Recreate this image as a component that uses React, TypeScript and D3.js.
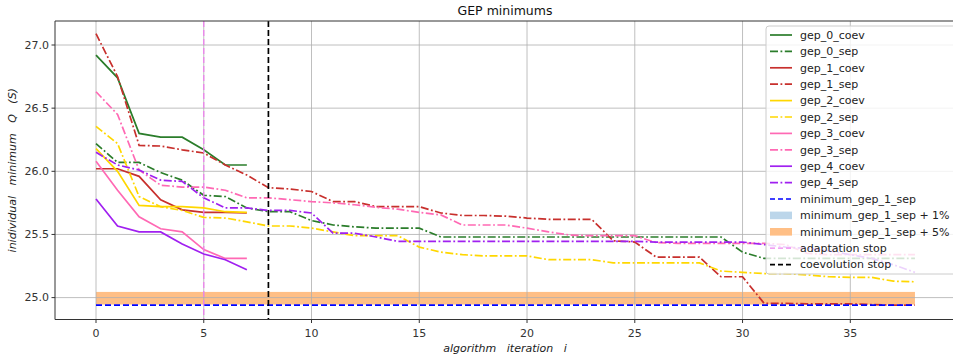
import React from "react";
import * as d3 from "d3";

const seriesLabels = [
  "gep_0_coev", "gep_0_sep", "gep_1_coev", "gep_1_sep", "gep_2_coev",
  "gep_2_sep", "gep_3_coev", "gep_3_sep", "gep_4_coev", "gep_4_sep",
];

const gep0Coev = [26.92, 26.74, 26.30, 26.27, 26.27, 26.17, 26.05, 26.05];
const gep0Sep = [
  26.22, 26.07, 26.07, 25.99, 25.93, 25.81, 25.80, 25.71, 25.68, 25.68, 25.61,
  25.575, 25.56, 25.55, 25.55, 25.55,
  25.48, 25.48, 25.48, 25.48, 25.48, 25.48, 25.48, 25.48, 25.48, 25.48, 25.48, 25.48, 25.48, 25.48,
  25.36, 25.31, 25.31, 25.31, 25.31, 25.31, 25.31, 25.31, 25.31,
];
const gep1Coev = [26.02, 26.02, 25.96, 25.775, 25.695, 25.675, 25.675, 25.67];
const gep1Sep = [
  27.09, 26.75, 26.205, 26.20, 26.17, 26.145, 26.05, 25.97, 25.87, 25.86,
  25.84, 25.76, 25.76, 25.72, 25.72, 25.72, 25.67, 25.65, 25.65, 25.645,
  25.63, 25.62, 25.62, 25.62, 25.45, 25.44, 25.32, 25.32, 25.32, 25.165,
  25.165, 24.955, 24.955, 24.95, 24.95, 24.95, 24.945, 24.94, 24.94,
];
const gep2Coev = [26.18, 26.0, 25.73, 25.72, 25.72, 25.71, 25.68, 25.675];
const gep2Sep = [
  26.356, 26.22, 25.80, 25.72, 25.69, 25.635, 25.63, 25.60, 25.567, 25.567,
  25.55, 25.52, 25.49, 25.49, 25.49, 25.40, 25.36, 25.34, 25.33, 25.33,
  25.33, 25.30, 25.30, 25.30, 25.275, 25.275, 25.275, 25.275, 25.275, 25.21,
  25.20, 25.19, 25.19, 25.18, 25.165, 25.16, 25.16, 25.13, 25.125,
];
const gep3Coev = [26.08, 25.85, 25.64, 25.545, 25.52, 25.38, 25.31, 25.31];
const gep3Sep = [
  26.63, 26.45, 26.01, 25.89, 25.875, 25.875, 25.85, 25.79, 25.79, 25.775,
  25.76, 25.75, 25.735, 25.715, 25.70, 25.675, 25.655, 25.575, 25.575, 25.575,
  25.55, 25.52, 25.495, 25.49, 25.49, 25.49, 25.435, 25.43, 25.43, 25.43,
  25.43, 25.43, 25.42, 25.35, 25.34, 25.34, 25.34, 25.34, 25.34,
];
const gep4Coev = [25.78, 25.567, 25.52, 25.52, 25.425, 25.345, 25.30, 25.22];
const gep4Sep = [
  26.15, 26.05, 26.01, 25.93, 25.92, 25.79, 25.71, 25.71, 25.69, 25.69, 25.67,
  25.51, 25.51, 25.48,
  25.445, 25.445, 25.445, 25.445, 25.445, 25.445, 25.445, 25.445, 25.445, 25.445, 25.445, 25.445,
  25.44, 25.44, 25.44, 25.44, 25.44,
  25.42, 25.40, 25.39, 25.37, 25.34, 25.31, 25.26, 25.20,
];

const minimumValue = 24.94;
const band5Low = 24.945;
const band5High = 25.045;
const bandStart = 0;
const bandEnd = 38;
const adaptationStop = 5;
const coevolutionStop = 8;

const xTicks = [0, 5, 10, 15, 20, 25, 30, 35];
const yTicks = [25.0, 25.5, 26.0, 26.5, 27.0];

const extraLegendLabels = [
  "minimum_gep_1_sep",
  "minimum_gep_1_sep + 1%",
  "minimum_gep_1_sep + 5%",
  "adaptation stop",
  "coevolution stop",
];

const seriesValues = [gep0Coev, gep0Sep, gep1Coev, gep1Sep, gep2Coev, gep2Sep, gep3Coev, gep3Sep, gep4Coev, gep4Sep];
const familyColors = ["#2b7d2b", "#c8302d", "#ffd700", "#ff69b4", "#a020f0"];

const DASHDOT = "8,2.5,1.8,2.5";
const DASHED = "6,3";
const FONT = "DejaVu Sans, sans-serif";

export default function App() {
  const W = 953, H = 360;
  const left = 55, top = 21, right = 960, bottom = 319.5;
  const x = d3.scaleLinear().domain([0, 35]).range([96, 850.3]);
  const y = d3.scaleLinear().domain([25, 27]).range([297.6, 45]);

  const line = d3.line<number>().x((_, i) => x(i)).y((d) => y(d));

  const series = seriesValues.map((vals, k) => ({
    name: seriesLabels[k],
    values: vals,
    color: familyColors[Math.floor(k / 2)],
    dash: k % 2 === 1 ? DASHDOT : undefined,
  }));

  const legendX = 766, legendY = 26, rowH = 16.4, firstRow = 35;
  const legendItems = [
    ...series.map((s) => ({ label: s.name, kind: "line", color: s.color, dash: s.dash, w: 1.7 })),
    { label: extraLegendLabels[0], kind: "line", color: "#0000ff", dash: "5,3", w: 1.7 },
    { label: extraLegendLabels[1], kind: "rect", color: "#bcd6ea" },
    { label: extraLegendLabels[2], kind: "rect", color: "#ffbf86" },
    { label: extraLegendLabels[3], kind: "line", color: "#ee82ee", dash: "5,3", w: 1.3 },
    { label: extraLegendLabels[4], kind: "line", color: "#000000", dash: "5,3", w: 1.7 },
  ];

  return (
    <svg width={W} height={H} style={{ position: "absolute", left: 0, top: 0, background: "#fff" }} fontFamily={FONT}>
      <rect x={0} y={0} width={W} height={H} fill="#fff" />
      <defs>
        <clipPath id="plot">
          <rect x={left} y={top} width={right - left} height={bottom - top} />
        </clipPath>
      </defs>
      {/* bands */}
      <rect
        x={x(bandStart)} y={y(band5High)} width={x(bandEnd) - x(bandStart)} height={y(band5Low) - y(band5High)}
        fill="#ffbf86"
      />
      {/* grid */}
      {xTicks.map((t) => (
        <line key={"gx" + t} x1={x(t)} x2={x(t)} y1={top} y2={bottom} stroke="#b0b0b0" strokeWidth={1} opacity={0.8} />
      ))}
      {yTicks.map((t) => (
        <line key={"gy" + t} x1={left} x2={right} y1={y(t)} y2={y(t)} stroke="#b0b0b0" strokeWidth={1} opacity={0.8} />
      ))}
      <g clipPath="url(#plot)">
        {series.map((s) => (
          <path key={s.name} d={line(s.values) || ""} fill="none" stroke={s.color} strokeWidth={1.7} strokeDasharray={s.dash} />
        ))}
        <line x1={x(bandStart)} x2={x(bandEnd)} y1={y(minimumValue)} y2={y(minimumValue)} stroke="#0000ff" strokeWidth={1.7} strokeDasharray={DASHED} />
        <line x1={x(adaptationStop)} x2={x(adaptationStop)} y1={top} y2={bottom} stroke="#ee82ee" strokeWidth={1.3} strokeDasharray={DASHED} />
        <line x1={x(coevolutionStop)} x2={x(coevolutionStop)} y1={top} y2={bottom} stroke="#000" strokeWidth={1.7} strokeDasharray={DASHED} />
      </g>
      {/* spines */}
      <line x1={left} x2={left} y1={top} y2={bottom} stroke="#333" strokeWidth={1} />
      <line x1={left} x2={right} y1={bottom} y2={bottom} stroke="#333" strokeWidth={1} />
      <line x1={left} x2={right} y1={top} y2={top} stroke="#333" strokeWidth={1} />
      {/* ticks */}
      {xTicks.map((t) => (
        <g key={"tx" + t}>
          <line x1={x(t)} x2={x(t)} y1={bottom} y2={bottom + 3.5} stroke="#333" />
          <text x={x(t)} y={bottom + 17} textAnchor="middle" fontSize={11} fill="#333">{t}</text>
        </g>
      ))}
      {yTicks.map((t) => (
        <g key={"ty" + t}>
          <line x1={left - 3.5} x2={left} y1={y(t)} y2={y(t)} stroke="#333" />
          <text x={left - 6} y={y(t)} dy="0.35em" textAnchor="end" fontSize={11} fill="#333">{t.toFixed(1)}</text>
        </g>
      ))}
      {/* labels */}
      <text x={505} y={14.5} textAnchor="middle" fontSize={12.5} fill="#111">GEP minimums</text>
      <text x={505} y={352} textAnchor="middle" fontSize={11} fontStyle="italic" fill="#222" xmlSpace="preserve">
        algorithm   iteration   i
      </text>
      <text
        transform={`translate(16,${(top + bottom) / 2}) rotate(-90)`}
        textAnchor="middle" fontSize={11} fontStyle="italic" fill="#222" xmlSpace="preserve"
      >
        inidividual   minimum   Q   (S)
      </text>
      {/* legend */}
      <g>
        <rect x={legendX} y={legendY} width={200} height={248} rx={3} fill="#fff" fillOpacity={0.8} stroke="#cccccc" strokeWidth={1} />
        {legendItems.map((it, i) => {
          const cy = firstRow + i * rowH;
          return (
            <g key={it.label}>
              {it.kind === "line" ? (
                <line x1={770} x2={792} y1={cy} y2={cy} stroke={it.color} strokeWidth={it.w} strokeDasharray={it.dash} />
              ) : (
                <rect x={770} y={cy - 3.8} width={22} height={7.6} fill={it.color} />
              )}
              <text x={800} y={cy} dy="0.35em" fontSize={11} fill="#222">{it.label}</text>
            </g>
          );
        })}
      </g>
    </svg>
  );
}
